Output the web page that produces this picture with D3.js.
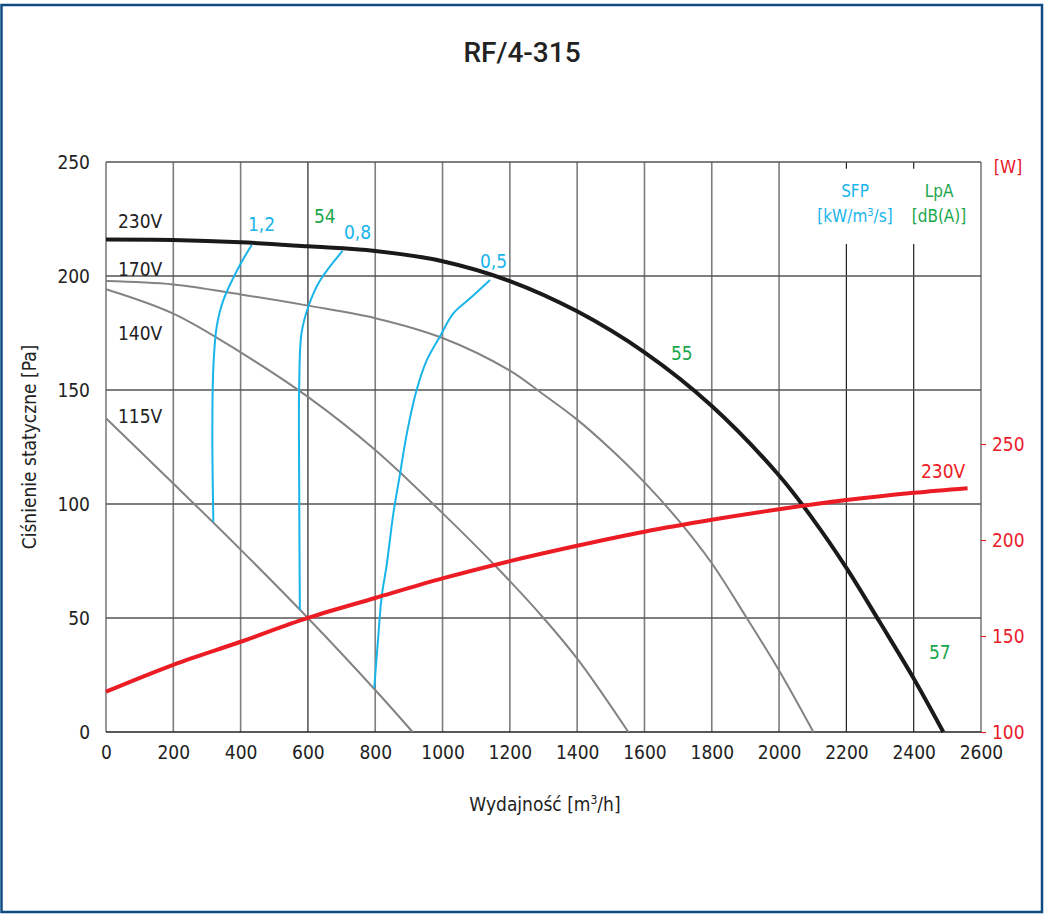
<!DOCTYPE html>
<html>
<head>
<meta charset="utf-8">
<script src="https://cdn.jsdelivr.net/npm/d3@7"></script>
<style>
  body { margin: 0; background: #fff; }
  text { font-family: "Liberation Sans Narrow", "DejaVu Sans Condensed", sans-serif; }
</style>
</head>
<body>
<svg id="chart" width="1045" height="920"></svg>
<script>
// ---- data ----
var flowTicks = [0, 200, 400, 600, 800, 1000, 1200, 1400, 1600, 1800, 2000, 2200, 2400, 2600];
var pressTicks = [0, 50, 100, 150, 200, 250];
var powerTicks = [100, 150, 200, 250];

// fan curves [flow m3/h, pressure Pa]
var fan230 = [[0,216],[200,215.8],[400,214.8],[600,213],[800,211],[1000,206.5],[1200,197.8],[1400,184.5],[1600,166.5],[1800,143],[2000,112.5],[2100,93.5],[2200,72],[2300,48],[2400,23.5],[2488,0]];
var fan170 = [[0,197.8],[200,196.3],[400,191.9],[600,187],[800,181.5],[1000,172.8],[1200,158.5],[1300,148],[1400,137],[1500,124],[1600,109.5],[1700,93],[1800,74],[1904,50],[2000,27],[2102,0]];
var fan140 = [[0,194.2],[200,183.5],[400,166.5],[600,147],[800,123.7],[1000,96],[1156,73],[1300,50],[1403,31.6],[1552,0]];
var fan115 = [[0,137.6],[200,109],[400,80],[600,50],[800,18.4],[911,0]];

// SFP iso-lines [flow, pressure]
var sfp12 = [[433,213.6],[398,204.8],[349,189.5],[329,177.8],[319,160],[316,131],[319,92.2]];
var sfp08 = [[703,211],[636,198],[601,186.5],[581,174.9],[574,151.4],[574,110],[576,53.5]];
var sfp05 = [[1141,198.2],[1082,190.2],[1032,183.6],[992,173.4],[953,163],[923,150],[894,131],[874,113.5],[854,96],[834,73.2],[819,59.3],[809,41.8],[797,19.2]];

// power at 230V [flow, W]
var power230 = [[0,121],[200,135],[400,147],[600,159.4],[800,169.8],[1000,180],[1200,189],[1400,197],[1600,204.3],[1800,210.5],[2000,216],[2200,220.8],[2400,224.6],[2560,227]];

var voltLabels = [["230V",228],["170V",276],["140V",340],["115V",423]];

var svg = d3.select("#chart");

var x = d3.scaleLinear().domain([0, 2600]).range([106, 981]);
var y = d3.scaleLinear().domain([0, 250]).range([732, 162]);
var yW = d3.scaleLinear().domain([100, 250]).range([732, 444]);

// outer frame
svg.append("rect")
  .attr("x", 1.5).attr("y", 5).attr("width", 1040.5).attr("height", 907)
  .attr("fill", "none").attr("stroke", "#0f4c81").attr("stroke-width", 2.5);

// title
svg.append("text")
  .attr("x", 522).attr("y", 62)
  .attr("text-anchor", "middle")
  .style("font-family", "Roboto, 'DejaVu Sans', sans-serif")
  .style("font-weight", "500")
  .style("font-size", "28px")
  .attr("fill", "#222")
  .text("RF/4-315");

// grid
var grid = svg.append("g");
var darkCols = [600, 2200, 2400];
var gapCols = [2200, 2400];
flowTicks.forEach(function(t) {
  var dark = darkCols.indexOf(t) >= 0;
  var segs = gapCols.indexOf(t) >= 0 ? [[250, 247], [214, 0]] : [[250, 0]];
  segs.forEach(function(s) {
    grid.append("line")
      .attr("x1", x(t)).attr("x2", x(t))
      .attr("y1", y(s[0])).attr("y2", y(s[1]))
      .attr("stroke", dark ? "#222" : "#7d7d7d")
      .attr("stroke-width", dark ? 1.2 : 1.6);
  });
});
pressTicks.forEach(function(t) {
  grid.append("line")
    .attr("x1", x(0)).attr("x2", x(2600))
    .attr("y1", y(t)).attr("y2", y(t))
    .attr("stroke", t === 0 ? "#222" : "#555")
    .attr("stroke-width", 1.5);
});

// axes
var xAxis = svg.append("g").attr("transform", "translate(0," + y(0) + ")")
  .call(d3.axisBottom(x).tickValues(flowTicks).tickFormat(d3.format("d")).tickSize(0).tickPadding(14));
var yAxis = svg.append("g").attr("transform", "translate(" + x(0) + ",0)")
  .call(d3.axisLeft(y).tickValues(pressTicks).tickFormat(d3.format("d")).tickSize(0).tickPadding(16));
var wAxis = svg.append("g").attr("transform", "translate(" + x(2600) + ",0)")
  .call(d3.axisRight(yW).tickValues(powerTicks).tickFormat(d3.format("d")).tickSize(5).tickPadding(6));
[xAxis, yAxis].forEach(function(a) {
  a.select(".domain").remove();
  a.selectAll("text").attr("fill", "#222").style("font-size", "19px")
    .style("font-family", "'Liberation Sans Narrow', 'DejaVu Sans Condensed', sans-serif");
});
yAxis.selectAll("text").attr("dy", "0.35em");
wAxis.select(".domain").remove();
wAxis.selectAll("line").attr("stroke", "#e8202a").attr("stroke-width", 1.2);
wAxis.selectAll("text").attr("fill", "#e8202a").style("font-size", "19px")
  .style("font-family", "'Liberation Sans Narrow', 'DejaVu Sans Condensed', sans-serif");

// axis titles
svg.append("text")
  .attr("x", 545).attr("y", 811)
  .attr("text-anchor", "middle")
  .attr("fill", "#222").style("font-size", "19px")
  .html("Wydajność [m<tspan baseline-shift='super' font-size='12px'>3</tspan>/h]");
svg.append("text")
  .attr("transform", "translate(36,447) rotate(-90)")
  .attr("text-anchor", "middle")
  .attr("fill", "#222").style("font-size", "19px")
  .text("Ciśnienie statyczne [Pa]");

svg.append("text")
  .attr("x", 1008).attr("y", 173).attr("text-anchor", "middle")
  .attr("fill", "#e8202a").style("font-size", "18px").text("[W]");

// curves
var smooth = d3.curveCatmullRom.alpha(0.5);
var line = d3.line().x(function(d) { return x(d[0]); }).y(function(d) { return y(d[1]); })
  .curve(smooth);
var powerLine = d3.line().x(function(d) { return x(d[0]); }).y(function(d) { return yW(d[1]); })
  .curve(smooth);

[fan170, fan140, fan115].forEach(function(c) {
  svg.append("path").attr("d", line(c))
    .attr("fill", "none").attr("stroke", "#838383").attr("stroke-width", 2);
});
[sfp12, sfp08, sfp05].forEach(function(c) {
  svg.append("path").attr("d", line(c))
    .attr("fill", "none").attr("stroke", "#19b4ea").attr("stroke-width", 2);
});
svg.append("path").attr("d", line(fan230))
  .attr("fill", "none").attr("stroke", "#1a1a1a").attr("stroke-width", 4);
svg.append("path").attr("d", powerLine(power230))
  .attr("fill", "none").attr("stroke", "#ec1c24").attr("stroke-width", 4);

// labels
var labels = svg.append("g").style("font-size", "19px");
voltLabels.forEach(function(v) {
  labels.append("text").attr("x", 118).attr("y", v[1]).attr("fill", "#222").text(v[0]);
});
labels.append("text").attr("x", 921).attr("y", 478).attr("fill", "#ec1c24").text("230V");

var blue = "#19b4ea", green = "#1aa64b";
[["1,2",248,231],["0,8",344,239],["0,5",480,268]].forEach(function(s) {
  labels.append("text").attr("x", s[1]).attr("y", s[2]).attr("fill", blue).text(s[0]);
});
[["54",314,223],["55",671,360],["57",929,659]].forEach(function(s) {
  labels.append("text").attr("x", s[1]).attr("y", s[2]).attr("fill", green).text(s[0]);
});

var hdr = svg.append("g").style("font-size", "17px").attr("text-anchor", "middle");
hdr.append("text").attr("x", 855).attr("y", 197).attr("fill", blue).text("SFP");
hdr.append("text").attr("x", 855).attr("y", 222).attr("fill", blue)
  .html("[kW/m<tspan baseline-shift='super' font-size='11px'>3</tspan>/s]");
hdr.append("text").attr("x", 939).attr("y", 197).attr("fill", green).text("LpA");
hdr.append("text").attr("x", 939).attr("y", 222).attr("fill", green).text("[dB(A)]");
</script>
</body>
</html>
